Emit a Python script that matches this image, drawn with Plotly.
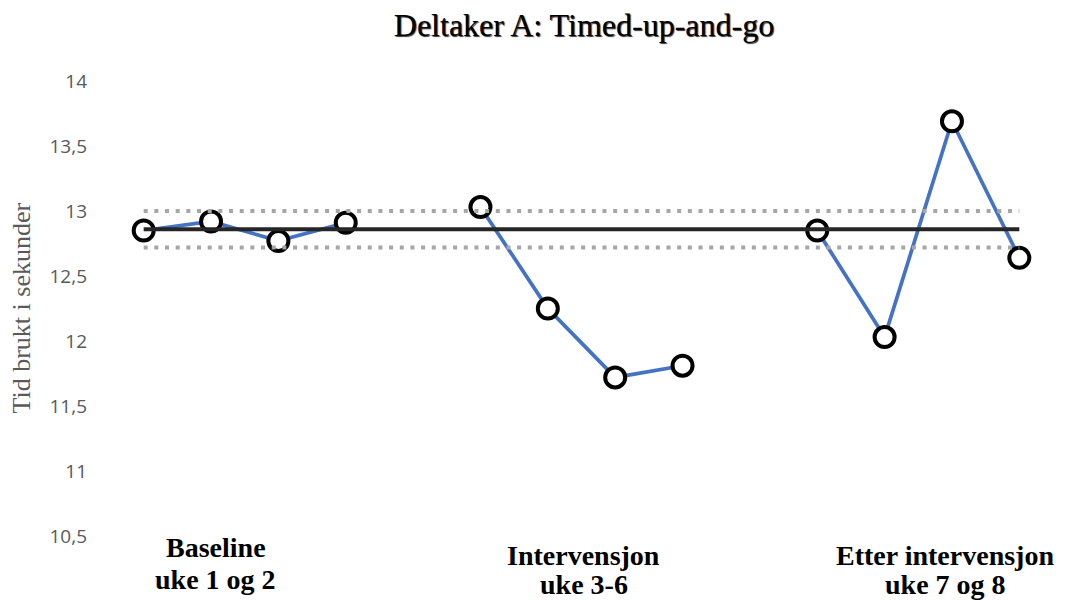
import plotly.graph_objects as go

# ---- data ----
sessions = list(range(14))
times = [12.85, 12.92, 12.77, 12.91, None,
         13.03, 12.25, 11.72, 11.81, None,
         12.85, 12.03, 13.69, 12.64]
baseline_mean = [12.86, 12.86]
band_upper = [13.0, 13.0]
band_lower = [12.72, 12.72]
line_span = [0, 13]
y_ticks = [10.5, 11, 11.5, 12, 12.5, 13, 13.5, 14]
y_tick_text = ["10,5", "11", "11,5", "12", "12,5", "13", "13,5", "14"]
phase_line1 = ["Baseline", "Intervensjon", "Etter intervensjon"]
phase_line2 = ["uke 1 og 2", "uke 3-6", "uke 7 og 8"]
phase_x = [1.07, 6.53, 11.90]
# screen-pixel centres of the two label lines (relative to window)
phase_y1_px = [547, 555, 555]
phase_y2_px = [579, 584, 584]

title_text = "Deltaker A: Timed-up-and-go"
y_title = "Tid brukt i sekunder"

W, H = 1059, 593
OFF = 8  # page body margin
PLOT_TOP, PLOT_H = 81, 455

def paper_y(px):
    return (PLOT_TOP + PLOT_H - px) / PLOT_H

fig = go.Figure()

fig.add_trace(go.Scatter(
    x=sessions, y=times, mode="lines+markers", connectgaps=False,
    line=dict(color="#4472C4", width=3.7),
    marker=dict(size=20, color="white", line=dict(color="black", width=4)),
    showlegend=False, hoverinfo="skip"))

for yy in (band_upper, band_lower):
    fig.add_trace(go.Scatter(
        x=line_span, y=yy, mode="lines",
        line=dict(color="#A6A6A6", width=4, dash="4px,6.67px"),
        showlegend=False, hoverinfo="skip"))

fig.add_trace(go.Scatter(
    x=line_span, y=baseline_mean, mode="lines",
    line=dict(color="#262626", width=4),
    showlegend=False, hoverinfo="skip"))

lab_font = dict(family="Liberation Serif", size=28, color="black", weight="bold")
for t1, t2, xx, y1, y2 in zip(phase_line1, phase_line2, phase_x, phase_y1_px, phase_y2_px):
    for txt, yy in ((t1, y1), (t2, y2)):
        fig.add_annotation(text=txt, x=xx, xref="x", y=paper_y(yy), yref="paper",
                           yanchor="middle", xanchor="center", showarrow=False,
                           font=lab_font, align="center", borderpad=0)

fig.add_annotation(text=y_title, x=(21 - 110) / 943, xref="paper", y=0.5, yref="paper",
                   textangle=-90, showarrow=False, xanchor="center", yanchor="middle",
                   borderpad=0,
                   font=dict(family="Liberation Serif", size=26, color="#595959"))

fig.update_layout(
    width=W, height=H,
    margin=dict(l=110 - OFF, r=14, t=PLOT_TOP - OFF, b=H - (PLOT_TOP - OFF) - PLOT_H),
    paper_bgcolor="white", plot_bgcolor="white",
    title=dict(text=title_text, x=(584 - OFF) / W, xanchor="center",
               y=1 - (25 - OFF) / H, yanchor="middle",
               font=dict(family="Liberation Serif", size=32, color="black",
                         shadow="1px 1px 1px #333")),
    xaxis=dict(range=[-0.5, 13.5], showgrid=False, zeroline=False,
               showticklabels=False, showline=False, ticks=""),
    yaxis=dict(range=[10.5, 14], tickvals=y_ticks, ticktext=y_tick_text,
               showgrid=False, zeroline=False, showline=False, ticks="",
               ticklabelstandoff=22,
               tickfont=dict(family="Open Sans", size=19, color="#595959")),
)

fig.write_html("out.html")
